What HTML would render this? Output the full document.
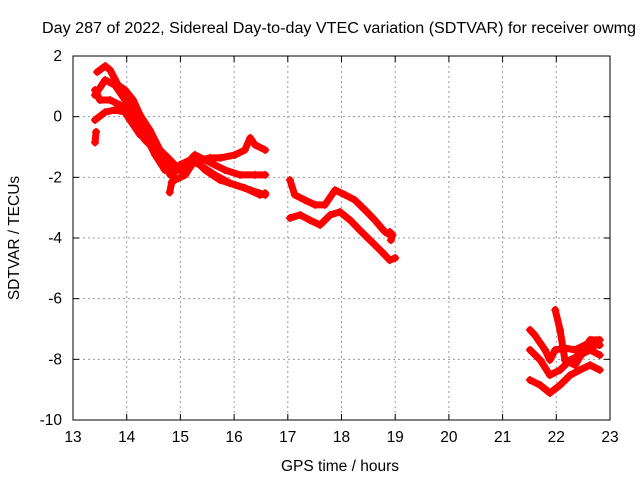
<!DOCTYPE html>
<html><head><meta charset="utf-8"><style>
body{margin:0;background:#fff;font-family:"Liberation Sans",sans-serif}
svg text{font-family:"Liberation Sans",sans-serif;fill:#000}
</style></head><body>
<svg width="640" height="480" id="chart">
<rect width="640" height="480" fill="#fff"/>
<text x="339" y="33" font-size="15.5" text-anchor="middle" textLength="594" lengthAdjust="spacingAndGlyphs">Day 287 of 2022, Sidereal Day-to-day VTEC variation (SDTVAR) for receiver owmg</text>
<text x="340" y="471" font-size="15.5" text-anchor="middle">GPS time / hours</text>
<text x="19" y="238" font-size="15.5" text-anchor="middle" transform="rotate(-90 19 238)">SDTVAR / TECUs</text>
<g id="grid"></g><g id="series"></g>
<rect x="73" y="56" width="537" height="364" fill="none" stroke="#000" stroke-width="1"/>
</svg>
<script>
const xTicks=[13,14,15,16,17,18,19,20,21,22,23];
const yTicks=[2,0,-2,-4,-6,-8,-10];
const s1a=[[13.45,1.47],[13.6,1.67],[13.69,1.54],[13.84,1.04],[13.97,0.88],[14.12,0.55],[14.25,0.05],[14.43,-0.44],[14.62,-1.1],[14.81,-1.43],[14.99,-1.76],[15.18,-1.59],[15.36,-1.43],[15.55,-1.36],[15.74,-1.36],[16.02,-1.26],[16.2,-1.1],[16.3,-0.7],[16.39,-0.93],[16.58,-1.1]];
const s1b=[[13.41,0.71],[13.6,1.21],[13.78,1.04],[13.97,0.55],[14.15,0.05],[14.34,-0.6],[14.53,-1.26],[14.71,-1.76],[14.9,-1.82],[15.09,-1.59],[15.27,-1.26],[15.46,-1.43],[15.64,-1.59],[15.83,-1.76],[16.11,-1.92],[16.39,-1.92],[16.58,-1.92]];
const s1c=[[13.41,-0.11],[13.6,0.15],[13.78,0.22],[13.97,0.15],[14.15,-0.28],[14.34,-0.77],[14.53,-1.1],[14.71,-1.43],[14.9,-2.09],[15.09,-1.92],[15.27,-1.43],[15.46,-1.76],[15.74,-2.09],[16.02,-2.25],[16.3,-2.42],[16.58,-2.58]];
const s1d=[[13.41,0.88],[13.5,0.55],[13.69,0.55],[13.88,0.38],[14.06,-0.11],[14.25,-0.6],[14.43,-0.77],[14.62,-1.1],[14.81,-1.92],[14.99,-1.59],[15.18,-1.43],[15.36,-1.59],[15.64,-1.92],[15.92,-2.19],[16.2,-2.35],[16.48,-2.58],[16.58,-2.52]];
const s1e=[[13.41,-0.85],[13.43,-0.5]];
const s1f=[[14.8,-2.5],[14.84,-2.15]];
const s2a=[[17.04,-2.09],[17.13,-2.58],[17.32,-2.75],[17.51,-2.91],[17.69,-2.91],[17.88,-2.42],[18.07,-2.58],[18.25,-2.75],[18.44,-3.08],[18.62,-3.41],[18.81,-3.8],[18.9,-3.9]];
const s2b=[[17.04,-3.34],[17.23,-3.24],[17.41,-3.41],[17.6,-3.57],[17.79,-3.24],[17.97,-3.14],[18.16,-3.41],[18.34,-3.74],[18.53,-4.07],[18.72,-4.4],[18.9,-4.73],[19.0,-4.66]];
const s2c=[[18.9,-3.8],[18.95,-3.9],[18.92,-4.07]];
const s3a=[[21.51,-7.03],[21.6,-7.2],[21.79,-7.69],[21.88,-8.02],[21.98,-7.69],[22.16,-7.63],[22.35,-7.69],[22.53,-7.53],[22.72,-7.53],[22.81,-7.53]];
const s3b=[[21.51,-7.69],[21.7,-8.02],[21.88,-8.52],[22.07,-8.35],[22.26,-8.02],[22.44,-7.86],[22.63,-7.69],[22.81,-7.86]];
const s3c=[[21.51,-8.68],[21.7,-8.85],[21.88,-9.11],[22.07,-8.85],[22.26,-8.52],[22.44,-8.35],[22.63,-8.19],[22.81,-8.35]];
const s3d=[[21.98,-6.37],[22.07,-7.03],[22.16,-8.02],[22.35,-8.19],[22.63,-7.36],[22.81,-7.36]];
const series=[s1a,s1b,s1c,s1d,s1e,s1f,s2a,s2b,s2c,s3a,s3b,s3c,s3d];
const NS='http://www.w3.org/2000/svg';
const X=t=>73+(t-13)*537/10, Y=v=>56+(2-v)*364/12;
const g=document.getElementById('grid'), sg=document.getElementById('series');
function mk(tag,a,p){const e=document.createElementNS(NS,tag);for(const k in a)e.setAttribute(k,a[k]);p.appendChild(e);return e;}
xTicks.forEach(t=>{const x=X(t);
 if(t>13&&t<23){const l=mk('line',{x1:x,x2:x,y1:56,y2:420,stroke:'#999','stroke-dasharray':'2,3'},g);
 
 }
 mk('line',{x1:x,x2:x,y1:420,y2:414,stroke:'#000'},g);mk('line',{x1:x,x2:x,y1:56,y2:62,stroke:'#000'},g);
 const tx=mk('text',{x:x,y:442,'font-size':15.5,'text-anchor':'middle'},g);tx.textContent=t;
 
 });
yTicks.forEach(v=>{const y=Y(v);
 if(v<2&&v>-10){const l=mk('line',{x1:73,x2:610,y1:y,y2:y,stroke:'#999','stroke-dasharray':'2,3'},g);
 
 }
 mk('line',{x1:73,x2:79,y1:y,y2:y,stroke:'#000'},g);mk('line',{x1:604,x2:610,y1:y,y2:y,stroke:'#000'},g);
 const tx=mk('text',{x:62,y:y+5,'font-size':15.5,'text-anchor':'end'},g);tx.textContent=v;
 
 });
series.forEach(s=>{
 const p=mk('polyline',{points:s.map(d=>X(d[0])+','+Y(d[1])).join(' '),fill:'none',stroke:'#f00','stroke-width':7,'stroke-linejoin':'round','stroke-linecap':'round'},sg);
 
 
 s.forEach(d=>{const x=X(d[0]),y=Y(d[1]);
  const m=mk('path',{d:`M${x-4},${y}h8M${x},${y-4}v8`,stroke:'#f00','stroke-width':1.5},sg);
  
  });
});
</script>
</body></html>
